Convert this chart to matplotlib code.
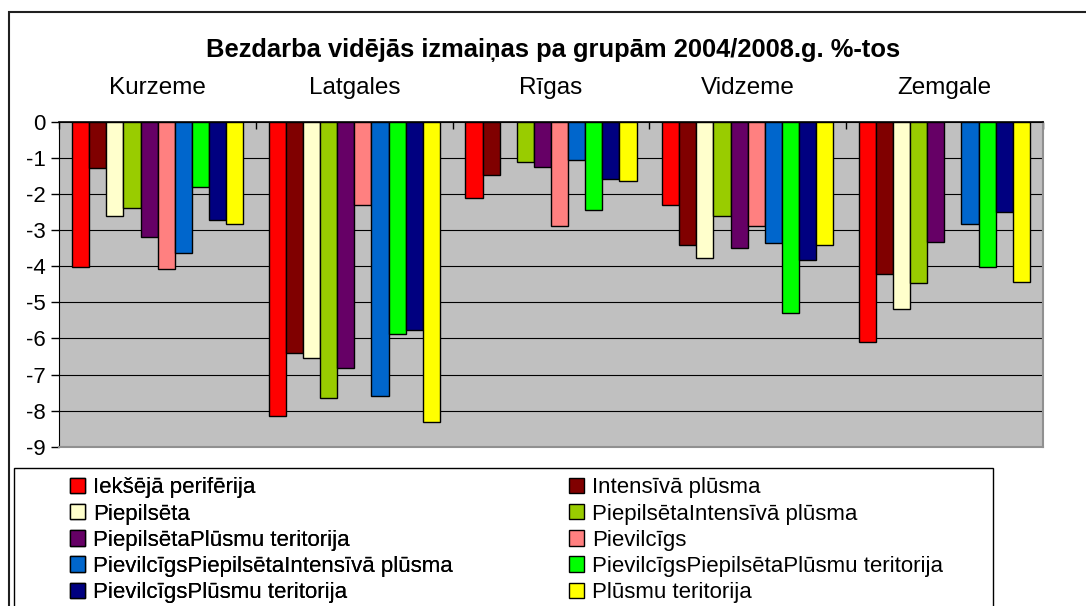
import numpy as np
import matplotlib
matplotlib.use("Agg")
from matplotlib import pyplot as plt
from matplotlib.patches import Rectangle, Patch

plt.rcParams['font.family'] = ['Liberation Sans', 'DejaVu Sans']
plt.rcParams['axes.unicode_minus'] = False

regions = ["Kurzeme", "Latgales", "Rīgas", "Vidzeme", "Zemgale"]

series_names = [
    "Iekšējā perifērija",
    "Intensīvā plūsma",
    "Piepilsēta",
    "PiepilsētaIntensīvā plūsma",
    "PiepilsētaPlūsmu teritorija",
    "Pievilcīgs",
    "PievilcīgsPiepilsētaIntensīvā plūsma",
    "PievilcīgsPiepilsētaPlūsmu teritorija",
    "PievilcīgsPlūsmu teritorija",
    "Plūsmu teritorija",
]

series_colors = ["#FF0000", "#800000", "#FFFFCC", "#99CC00", "#660066",
                 "#FF8080", "#0066CC", "#00FF00", "#000080", "#FFFF00"]

# values per series, order of regions: Kurzeme, Latgales, Rigas, Vidzeme, Zemgale
iekseja_periferija = [-4.03, -8.14, -2.12, -2.30, -6.11]
intensiva_plusma = [-1.28, -6.41, -1.46, -3.41, -4.20]
piepilseta = [-2.61, -6.54, np.nan, -3.76, -5.18]
piepilseta_intensiva = [-2.38, -7.65, -1.10, -2.61, -4.47]
piepilseta_plusmu = [-3.18, -6.81, -1.24, -3.49, -3.32]
pievilcigs = [-4.08, -2.30, -2.88, -2.88, np.nan]
pievilcigs_piep_intensiva = [-3.63, -7.60, -1.06, -3.36, -2.83]
pievilcigs_piep_plusmu = [-1.81, -5.88, -2.43, -5.30, -4.03]
pievilcigs_plusmu = [-2.71, -5.76, -1.59, -3.82, -2.49]
plusmu_teritorija = [-2.84, -8.31, -1.64, -3.41, -4.43]

series_values = [iekseja_periferija, intensiva_plusma, piepilseta, piepilseta_intensiva,
                 piepilseta_plusmu, pievilcigs, pievilcigs_piep_intensiva,
                 pievilcigs_piep_plusmu, pievilcigs_plusmu, plusmu_teritorija]

W, H = 1086, 606
fig = plt.figure(figsize=(W / 100, H / 100), dpi=100)
ax = fig.add_axes([59.3 / W, 1 - 446.7 / H, (1042.7 - 59.3) / W, (446.7 - 122) / H])
ax.set_facecolor("#C0C0C0")

x = np.arange(len(regions))
n = len(series_names)
bw = 1 / 11.5  # excel gap width 150%
for i, (vals, col) in enumerate(zip(series_values, series_colors)):
    ax.bar(x + (i - (n - 1) / 2) * bw, vals, width=bw, color=col,
           edgecolor="black", linewidth=1.0, zorder=3)

ax.set_xlim(-0.5, len(regions) - 0.5)
ax.set_ylim(-9, 0)
ax.set_yticks(np.arange(-9, 1, 1))
ax.set_yticklabels([str(v) for v in range(-9, 1)])
ax.yaxis.grid(True, color="black", linewidth=0.8, zorder=1)
ax.set_axisbelow(True)
ax.tick_params(axis="y", direction="out", length=5.8, width=1, pad=4.0,
               labelsize=16, colors="black")

# category axis sits at y=0 (top)
ax.xaxis.tick_top()
ax.set_xticks(x)
ax.set_xticklabels(regions)
ax.set_xticks(np.arange(-0.5, len(regions), 1), minor=True)
ax.tick_params(axis="x", which="major", length=0, pad=16.3, labelsize=17.5)
ax.tick_params(axis="x", which="minor", direction="in", length=5, width=1,
               top=True, bottom=False)

for s in ["right", "bottom"]:
    ax.spines[s].set_color("#909090")
    ax.spines[s].set_linewidth(1.5)
ax.spines["left"].set_color("black")
ax.spines["top"].set_color("black")
ax.spines["top"].set_linewidth(1.2)

fig.text(553.5 / W, 1 - 57 / H, "Bezdarba vidējās izmaiņas pa grupām 2004/2008.g. %-tos",
         ha="center", va="baseline", fontsize=18.4, fontweight="bold")

# outer chart border and legend box
fig.patches.append(Rectangle((9 / W, -0.1), 1.2, 1.1 - 12 / H, transform=fig.transFigure,
                             fill=False, edgecolor="#202020", linewidth=1.5))
fig.patches.append(Rectangle((14 / W, -0.1), (993 - 14) / W, 0.1 + 1 - 468 / H,
                             transform=fig.transFigure, fill=False,
                             edgecolor="black", linewidth=1.0))

handles = [Patch(facecolor=c, edgecolor="black", linewidth=1.0) for c in series_colors]
leg_kw = dict(loc="upper left", frameon=False, fontsize=16, handlelength=0.68,
              handleheight=0.68, handletextpad=0.36, labelspacing=0.23,
              borderpad=0, borderaxespad=0)
leg1 = fig.legend(handles[0::2], series_names[0::2],
                  bbox_to_anchor=(70 / W, 1 - 477.5 / H), **leg_kw)
fig.add_artist(leg1)
fig.legend(handles[1::2], series_names[1::2],
           bbox_to_anchor=(569 / W, 1 - 477.5 / H), **leg_kw)

fig.savefig("out.png", dpi=100)
